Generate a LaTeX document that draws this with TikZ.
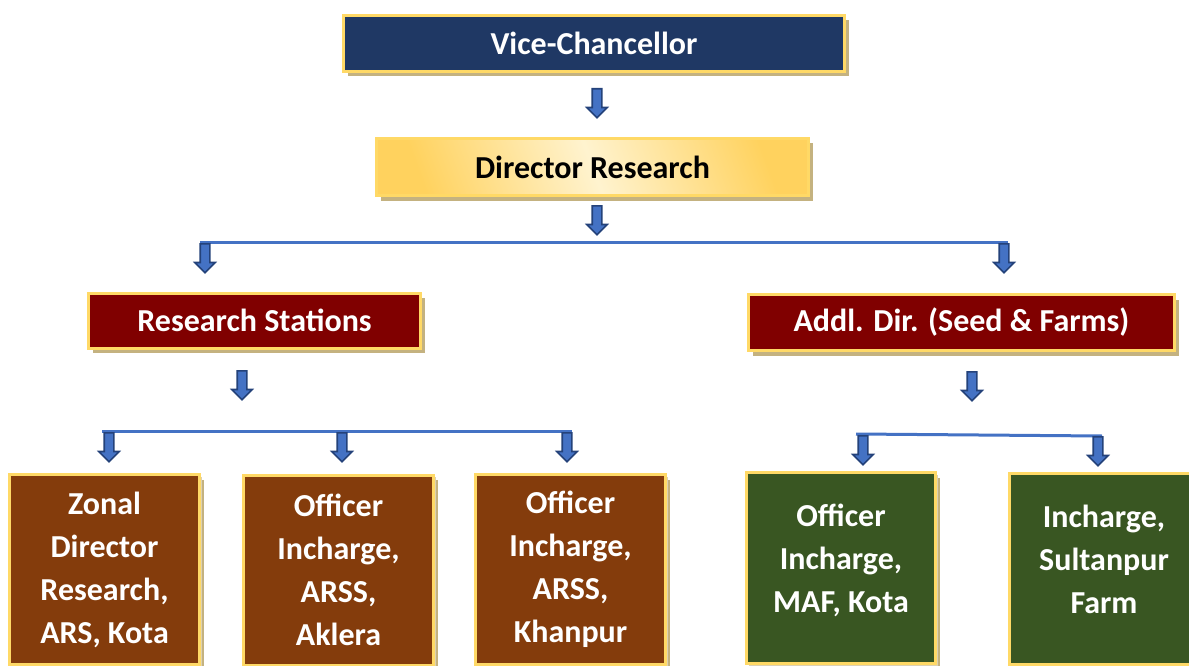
\documentclass[tikz,border=0pt]{standalone}
\usepackage{fontspec}
\setmainfont{Carlito}
\usepackage{tikz}
\usetikzlibrary{shapes.arrows}
\usetikzlibrary{shadows}
\definecolor{vcnavy}{HTML}{1F3864}
\definecolor{boxgold}{HTML}{FFD966}
\definecolor{shadowtan}{HTML}{C4B280}
\definecolor{drgold}{HTML}{FFD25E}
\definecolor{drcream}{HTML}{FFF3CF}
\definecolor{rsmaroon}{HTML}{800000}
\definecolor{stnbrown}{HTML}{843C0C}
\definecolor{farmgreen}{HTML}{395622}
\definecolor{barblue}{HTML}{4472C4}
\colorlet{arrowfill}{barblue}
\definecolor{arrowedge}{HTML}{24427A}
\tikzstyle{box}=[draw=boxgold,line width=3pt,text=white,align=center,inner sep=0pt,
  font=\bfseries\fontsize{32}{43}\selectfont,
  drop shadow={shadow xshift=4pt,shadow yshift=-5pt,fill=shadowtan,opacity=1}]
\tikzstyle{unit}=[box,minimum width=190pt,minimum height=190pt,
  drop shadow={shadow xshift=2pt,shadow yshift=-2pt,fill=shadowtan!60,opacity=1}]
\tikzstyle{farm}=[unit,fill=farmgreen,minimum width=189pt,minimum height=191pt]
\tikzstyle{bar}=[draw=barblue,line width=3pt]
\tikzstyle{dn}=[single arrow,draw=arrowedge,fill=arrowfill,line width=1.6pt,
  shape border rotate=270,anchor=tail,inner xsep=4pt,inner ysep=4pt,minimum height=29pt,
  minimum width=0pt,single arrow head extend=5.5pt,single arrow head indent=0pt]

\begin{document}
\begin{tikzpicture}[x=1pt,y=-1pt]
	\useasboundingbox (0,0) rectangle (1189,666);
	\clip (0,0) rectangle (1189,666);
	\node[box,fill=vcnavy,minimum width=501pt,minimum height=56pt] (vc) at (594,43.5) {Vice-Chancellor};
	\node[box,text=black,top color=drgold,bottom color=drgold,middle color=drcream,shading angle=-70,
	  minimum width=432pt,minimum height=57pt] (dr) at (592.5,167) {Director Research};
	\node[box,fill=rsmaroon,minimum width=332pt,minimum height=55pt] (rs) at (254.5,320.5) {Research Stations};
	\node[box,fill=rsmaroon,minimum width=426pt,minimum height=56pt] (ad) at (961.5,322.5) {Addl. Dir. (Seed \& Farms)};
	\node[unit,fill=stnbrown] (kota) at (104.5,569.5) {Zonal\\Director\\Research,\\ARS, Kota};
	\node[unit,fill=stnbrown] (aklera) at (338.5,570) {Officer\\Incharge,\\ARSS,\\Aklera};
	\node[unit,fill=stnbrown] (khanpur) at (570.5,569.5) {Officer\\Incharge,\\ARSS,\\Khanpur};
	\node[farm,text depth=20pt] (maf) at (841,568) {Officer\\Incharge,\\MAF, Kota};
	\node[farm,text depth=18pt] (sultanpur) at (1104,568.5) {Incharge,\\Sultanpur\\Farm};
	% branch bars
	\coordinate (top-l) at (200,242);
	\coordinate (top-r) at (1008,242);
	\coordinate (rs-l) at (102,431);
	\coordinate (rs-r) at (572,431);
	\coordinate (ad-l) at (856,434);
	\coordinate (ad-r) at (1102,436);
	\draw[bar] (top-l) -- (top-r);
	\draw[bar] (rs-l) -- (rs-r);
	\draw[bar] (ad-l) -- (ad-r);
	\node[dn] (a-vc) at (597,88) {};
	\node[dn] (a-dr) at (597,205) {};
	\node[dn] (a-rs) at (205,243) {};
	\node[dn] (a-ad) at (1004,243) {};
	\node[dn] (a-st) at (242,370) {};
	\node[dn] (a-sd) at (972,371) {};
	\node[dn] (a-kota) at (109,432) {};
	\node[dn] (a-aklera) at (342,432) {};
	\node[dn] (a-khanpur) at (567,432) {};
	\node[dn] (a-maf) at (863,435) {};
	\node[dn] (a-sultanpur) at (1098,436) {};
\end{tikzpicture}
\end{document}
